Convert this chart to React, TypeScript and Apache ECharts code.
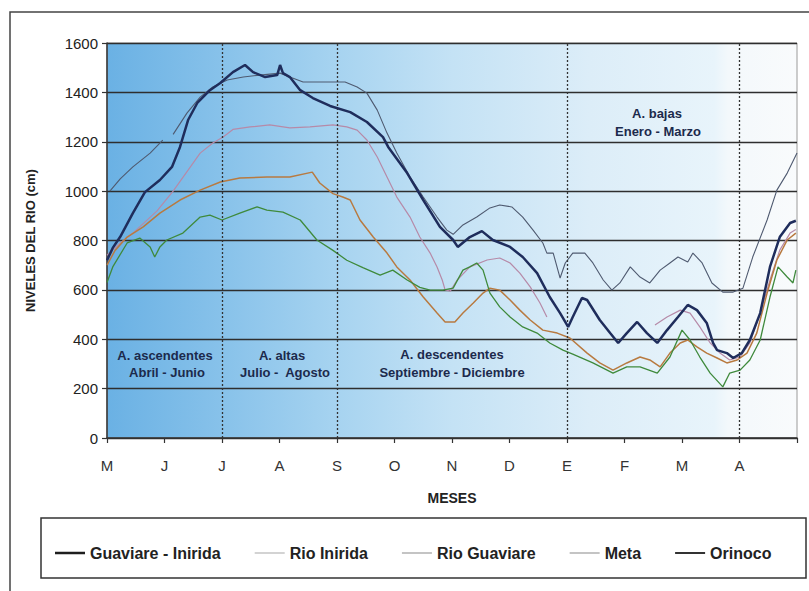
import React, { useEffect, useRef } from "react";
import * as echarts from "echarts";

// Month tick labels (May .. April)
const monthLabels = ["M", "J", "J", "A", "S", "O", "N", "D", "E", "F", "M", "A", ""];

const seriesNames = ["Guaviare - Inirida", "Rio Inirida", "Rio Guaviare", "Meta", "Orinoco"];

// [month position, level cm]
const guaviareInirida: (number | null)[][] = [
  [0.0, 720], [0.1, 770], [0.23, 815], [0.45, 911], [0.66, 996], [0.92, 1045], [1.13, 1098],
  [1.27, 1179], [1.41, 1288], [1.57, 1357], [1.79, 1409], [1.97, 1438], [2.19, 1482], [2.4, 1511],
  [2.54, 1482], [2.75, 1462], [2.96, 1470], [3.01, 1511], [3.06, 1478], [3.18, 1462], [3.36, 1409],
  [3.58, 1377], [3.88, 1345], [4.23, 1320], [4.52, 1280], [4.8, 1219], [4.89, 1179], [5.22, 1073],
  [5.5, 964], [5.79, 855], [6.02, 802], [6.1, 774], [6.31, 814], [6.52, 838], [6.71, 802],
  [7.01, 774], [7.23, 733], [7.48, 668], [7.7, 571], [7.88, 506], [8.02, 450], [8.1, 490],
  [8.26, 567], [8.35, 559], [8.57, 478], [8.75, 425], [8.89, 385], [9.04, 425], [9.22, 470],
  [9.39, 425], [9.57, 385], [9.74, 437], [9.93, 490], [10.1, 539], [10.26, 518], [10.43, 466],
  [10.54, 385], [10.61, 356], [10.78, 344], [10.89, 324], [11.04, 344], [11.18, 397], [11.36, 506],
  [11.53, 693], [11.7, 814], [11.88, 871], [11.98, 880],
];

const rioInirida: (number | null)[][] = [
  [0.0, 740], [0.23, 790], [0.45, 830], [0.87, 920], [1.15, 1000], [1.41, 1085], [1.62, 1154],
  [1.84, 1195], [2.02, 1219], [2.19, 1250], [2.49, 1260], [2.83, 1268], [3.18, 1256], [3.53, 1260],
  [3.93, 1268], [4.17, 1260], [4.35, 1247], [4.52, 1207], [4.7, 1138], [4.87, 1057], [5.04, 976],
  [5.27, 895], [5.44, 814], [5.62, 749], [5.74, 693], [5.83, 640], [5.88, 600], [5.97, 595],
  [6.09, 640], [6.31, 693], [6.61, 721], [6.83, 729], [7.01, 709], [7.18, 668], [7.36, 612],
  [7.53, 547], [7.65, 490], [7.66, null], [9.53, 458], [9.74, 490], [9.97, 518], [10.14, 506],
  [10.31, 450], [10.49, 385], [10.66, 344], [10.83, 316], [11.01, 328], [11.18, 385], [11.36, 506],
  [11.53, 640], [11.7, 761], [11.88, 830], [11.98, 845],
];

const rioGuaviare: (number | null)[][] = [
  [0.0, 700], [0.14, 760], [0.35, 814], [0.63, 855], [0.92, 911], [1.27, 964], [1.62, 1004],
  [1.97, 1037], [2.31, 1053], [2.78, 1057], [3.18, 1057], [3.57, 1077], [3.7, 1033], [3.93, 990],
  [4.1, 976], [4.23, 964], [4.4, 883], [4.63, 814], [4.87, 749], [5.04, 693], [5.27, 640],
  [5.5, 571], [5.74, 506], [5.88, 470], [6.05, 470], [6.19, 506], [6.37, 547], [6.54, 587],
  [6.66, 607], [6.83, 599], [7.01, 559], [7.18, 518], [7.36, 478], [7.58, 437], [7.83, 425],
  [8.05, 405], [8.35, 344], [8.57, 304], [8.8, 275], [9.04, 304], [9.27, 328], [9.44, 316],
  [9.62, 288], [9.79, 344], [9.97, 385], [10.1, 397], [10.26, 369], [10.43, 344], [10.61, 324],
  [10.78, 304], [10.96, 316], [11.13, 344], [11.3, 425], [11.48, 587], [11.65, 721], [11.83, 802],
  [11.98, 830],
];

const meta: (number | null)[][] = [
  [0.0, 630], [0.1, 693], [0.35, 790], [0.57, 810], [0.75, 774], [0.83, 733], [0.92, 774],
  [1.04, 802], [1.32, 830], [1.62, 895], [1.79, 903], [2.0, 883], [2.31, 911], [2.61, 936],
  [2.78, 923], [3.06, 915], [3.36, 883], [3.65, 802], [3.93, 760], [4.17, 720], [4.45, 690],
  [4.75, 660], [4.97, 680], [5.22, 640], [5.44, 610], [5.62, 599], [5.84, 599], [6.02, 607],
  [6.19, 680], [6.31, 693], [6.43, 709], [6.54, 680], [6.66, 587], [6.83, 531], [7.01, 490],
  [7.23, 450], [7.48, 425], [7.7, 385], [7.93, 356], [8.1, 340], [8.45, 304], [8.8, 263],
  [9.04, 288], [9.27, 288], [9.57, 263], [9.79, 328], [10.0, 437], [10.14, 397], [10.31, 328],
  [10.49, 263], [10.71, 207], [10.83, 263], [11.01, 275], [11.18, 316], [11.36, 397], [11.53, 571],
  [11.67, 693], [11.83, 652], [11.93, 628], [11.98, 680],
];

const orinoco: (number | null)[][] = [
  [0.05, 1000], [0.23, 1050], [0.45, 1098], [0.75, 1154], [0.97, 1207], [1.0, null], [1.15, 1230],
  [1.39, 1316], [1.62, 1381], [1.84, 1422], [2.09, 1450], [2.37, 1462], [2.66, 1470], [3.01, 1478],
  [3.18, 1462], [3.41, 1442], [3.65, 1442], [3.93, 1442], [4.14, 1442], [4.35, 1422], [4.52, 1397],
  [4.7, 1328], [4.87, 1235], [5.04, 1154], [5.27, 1057], [5.5, 976], [5.74, 895], [5.91, 842],
  [6.02, 825], [6.19, 863], [6.43, 895], [6.66, 932], [6.83, 944], [7.04, 936], [7.23, 895],
  [7.41, 842], [7.58, 790], [7.65, 749], [7.76, 749], [7.88, 648], [7.97, 709], [8.1, 749],
  [8.31, 749], [8.45, 709], [8.63, 640], [8.78, 599], [8.92, 628], [9.1, 693], [9.27, 652],
  [9.44, 628], [9.62, 680], [9.79, 709], [9.93, 733], [10.1, 713], [10.19, 749], [10.35, 709],
  [10.52, 628], [10.71, 591], [10.89, 591], [11.06, 607], [11.23, 733], [11.48, 883], [11.65, 1004],
  [11.83, 1073], [12.0, 1154],
];

// Season boundaries (month positions): July, September, January, April
const seasonBounds = [2, 4, 8, 11];

const FONT = "'Liberation Sans', Arial, sans-serif";

export default function App() {
  const ref = useRef<HTMLDivElement>(null);

  useEffect(() => {
    if (!ref.current) return;
    const chart = echarts.init(ref.current, undefined, { renderer: "svg" });

    const lineColors = ["#1f2d5c", "#b68aa8", "#b87a40", "#3f8a3c", "#4f5a70"];
    const lineWidths = [2.5, 1.2, 1.5, 1.3, 1.1];
    const datasets = [guaviareInirida, rioInirida, rioGuaviare, meta, orinoco];
    const legendColors = ["#1e1e1e", "#a8a8a8", "#8a8a8a", "#8a8a8a", "#333333"];
    const thickIcon = "path://M0,0L30,0M0,6.2H30V8.8H0ZM0,15L30,15";
    const thinIcon = "path://M0,0L30,0M0,6.9H30V8.1H0ZM0,15L30,15";
    const midIcon = "path://M0,0L30,0M0,6.6H30V8.4H0ZM0,15L30,15";
    const legendIcons = [thickIcon, thinIcon, thinIcon, thinIcon, midIcon];

    const series: any[] = datasets.map((d, i) => ({
      name: seriesNames[i],
      type: "line",
      data: d,
      symbol: "none",
      connectNulls: false,
      z: i === 0 ? 5 : 3,
      lineStyle: { color: lineColors[i], width: lineWidths[i] },
      itemStyle: { color: lineColors[i] },
    }));
    series[0].markLine = {
      silent: true,
      symbol: ["none", "none"],
      label: { show: false },
      lineStyle: { type: [2, 2], color: "#333", width: 1.3 },
      data: seasonBounds.map((x) => ({ xAxis: x })),
    };

    const anno = (text: string, x: number, y: number) => ({
      type: "text",
      x,
      y,
      style: {
        text,
        fill: "#1c2a4c",
        font: `bold 13px ${FONT}`,
        align: "center",
        verticalAlign: "middle",
      },
      z: 10,
    });

    chart.setOption({
      animation: false,
      textStyle: { fontFamily: FONT },
      grid: {
        left: 107,
        top: 43,
        width: 690,
        height: 395,
        show: true,
        borderColor: "#9a9a9a",
        borderWidth: 1,
        backgroundColor: {
          type: "linear",
          x: 0,
          y: 0,
          x2: 1,
          y2: 0,
          colorStops: [
            { offset: 0, color: "#6ab1e4" },
            { offset: 0.17, color: "#88c2ea" },
            { offset: 0.33, color: "#a6d3f0" },
            { offset: 0.5, color: "#c4e2f5" },
            { offset: 0.7, color: "#dcedf8" },
            { offset: 0.88, color: "#e8f4fb" },
            { offset: 0.9, color: "#f3f8fb" },
            { offset: 1, color: "#f9fbfc" },
          ],
        },
      },
      xAxis: {
        type: "value",
        min: 0,
        max: 12,
        interval: 1,
        name: "MESES",
        nameLocation: "middle",
        nameGap: 53,
        nameTextStyle: { fontFamily: FONT, fontWeight: "bold", fontSize: 14, color: "#222" },
        axisLine: { show: true, onZero: false, lineStyle: { color: "#333", width: 1.5 } },
        axisTick: { show: true, length: 5, lineStyle: { color: "#333", width: 1.2 } },
        axisLabel: {
          fontFamily: FONT,
          fontSize: 15,
          color: "#333",
          margin: 20,
          formatter: (v: number) => monthLabels[Math.round(v)] ?? "",
        },
        splitLine: { show: false },
      },
      yAxis: {
        type: "value",
        min: 0,
        max: 1600,
        interval: 200,
        name: "NIVELES DEL RIO (cm)",
        nameLocation: "middle",
        nameGap: 70,
        nameTextStyle: { fontFamily: FONT, fontWeight: "bold", fontSize: 13, color: "#222" },
        axisLine: { show: true, lineStyle: { color: "#333", width: 1.5 } },
        axisTick: { show: true, length: 5, lineStyle: { color: "#333", width: 1.2 } },
        axisLabel: {
          fontFamily: FONT,
          fontSize: 15,
          color: "#222",
          margin: 9,
          formatter: (v: number) => String(v),
        },
        splitLine: { show: true, lineStyle: { color: "#2e2e2e", width: 1.3 } },
      },
      legend: {
        left: 50,
        top: 540,
        itemGap: 34,
        itemWidth: 30,
        itemHeight: 15,
        symbolKeepAspect: false,
        textStyle: { fontFamily: FONT, fontWeight: "bold", fontSize: 16, color: "#222" },
        data: seriesNames.map((n, i) => ({
          name: n,
          icon: legendIcons[i],
          itemStyle: {
            color: legendColors[i],
            borderColor: legendColors[i],
            borderWidth: 0,
            opacity: 1,
          },
        })),
      },
      graphic: [
        {
          type: "rect",
          shape: { x: 10, y: 12, width: 830, height: 620 },
          style: { fill: "none", stroke: "#444", lineWidth: 1.5 },
          silent: true,
        },
        {
          type: "rect",
          shape: { x: 41, y: 518, width: 765, height: 60 },
          style: { fill: "none", stroke: "#333", lineWidth: 1.5 },
          silent: true,
        },
        anno("A. ascendentes", 165, 355),
        anno("Abril - Junio", 167, 372),
        anno("A. altas", 282, 355),
        anno("Julio -  Agosto", 285, 372),
        anno("A. descendentes", 452, 354),
        anno("Septiembre - Diciembre", 452, 372),
        anno("A. bajas", 657, 113),
        anno("Enero - Marzo", 658, 131),
      ],
      series,
    });

    return () => chart.dispose();
  }, []);

  return (
    <div
      ref={ref}
      style={{ position: "fixed", left: 0, top: 0, width: 809, height: 591, background: "#fff" }}
    />
  );
}
